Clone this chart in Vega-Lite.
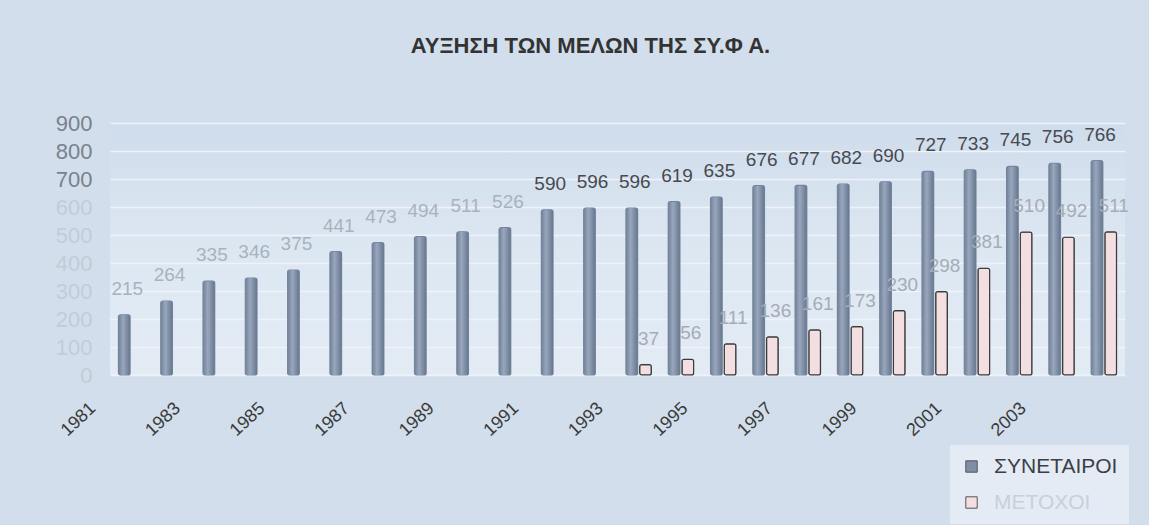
{
  "$schema": "https://vega.github.io/schema/vega-lite/v6.json",
  "width": 1015,
  "height": 252,
  "autosize": "none",
  "padding": {"left": 110, "top": 123, "right": 24, "bottom": 150},
  "background": "#d2deeb",
  "config": {
    "font": "Liberation Sans",
    "view": {"stroke": null, "fill": {"gradient": "linear", "x1": 0, "y1": 0, "x2": 0, "y2": 1, "stops": [{"offset": 0, "color": "#cfdceb"}, {"offset": 0.5, "color": "#dde7f2"}, {"offset": 1, "color": "#e3ecf5"}]}}
  },
  "title": {
    "text": "ΑΥΞΗΣΗ ΤΩΝ ΜΕΛΩΝ ΤΗΣ ΣΥ.Φ Α.",
    "fontSize": 22,
    "fontWeight": "bold",
    "color": "#333333",
    "anchor": "middle",
    "dx": -27,
    "offset": 54
  },
  "data": {
    "values": [
      {"year": 1981, "series": "ΣΥΝΕΤΑΙΡΟΙ", "value": 215},
      {"year": 1982, "series": "ΣΥΝΕΤΑΙΡΟΙ", "value": 264},
      {"year": 1983, "series": "ΣΥΝΕΤΑΙΡΟΙ", "value": 335},
      {"year": 1984, "series": "ΣΥΝΕΤΑΙΡΟΙ", "value": 346},
      {"year": 1985, "series": "ΣΥΝΕΤΑΙΡΟΙ", "value": 375},
      {"year": 1986, "series": "ΣΥΝΕΤΑΙΡΟΙ", "value": 441},
      {"year": 1987, "series": "ΣΥΝΕΤΑΙΡΟΙ", "value": 473},
      {"year": 1988, "series": "ΣΥΝΕΤΑΙΡΟΙ", "value": 494},
      {"year": 1989, "series": "ΣΥΝΕΤΑΙΡΟΙ", "value": 511},
      {"year": 1990, "series": "ΣΥΝΕΤΑΙΡΟΙ", "value": 526},
      {"year": 1991, "series": "ΣΥΝΕΤΑΙΡΟΙ", "value": 590},
      {"year": 1992, "series": "ΣΥΝΕΤΑΙΡΟΙ", "value": 596},
      {"year": 1993, "series": "ΣΥΝΕΤΑΙΡΟΙ", "value": 596},
      {"year": 1994, "series": "ΣΥΝΕΤΑΙΡΟΙ", "value": 619},
      {"year": 1995, "series": "ΣΥΝΕΤΑΙΡΟΙ", "value": 635},
      {"year": 1996, "series": "ΣΥΝΕΤΑΙΡΟΙ", "value": 676},
      {"year": 1997, "series": "ΣΥΝΕΤΑΙΡΟΙ", "value": 677},
      {"year": 1998, "series": "ΣΥΝΕΤΑΙΡΟΙ", "value": 682},
      {"year": 1999, "series": "ΣΥΝΕΤΑΙΡΟΙ", "value": 690},
      {"year": 2000, "series": "ΣΥΝΕΤΑΙΡΟΙ", "value": 727},
      {"year": 2001, "series": "ΣΥΝΕΤΑΙΡΟΙ", "value": 733},
      {"year": 2002, "series": "ΣΥΝΕΤΑΙΡΟΙ", "value": 745},
      {"year": 2003, "series": "ΣΥΝΕΤΑΙΡΟΙ", "value": 756},
      {"year": 2004, "series": "ΣΥΝΕΤΑΙΡΟΙ", "value": 766},
      {"year": 1993, "series": "ΜΕΤΟΧΟΙ", "value": 37},
      {"year": 1994, "series": "ΜΕΤΟΧΟΙ", "value": 56},
      {"year": 1995, "series": "ΜΕΤΟΧΟΙ", "value": 111},
      {"year": 1996, "series": "ΜΕΤΟΧΟΙ", "value": 136},
      {"year": 1997, "series": "ΜΕΤΟΧΟΙ", "value": 161},
      {"year": 1998, "series": "ΜΕΤΟΧΟΙ", "value": 173},
      {"year": 1999, "series": "ΜΕΤΟΧΟΙ", "value": 230},
      {"year": 2000, "series": "ΜΕΤΟΧΟΙ", "value": 298},
      {"year": 2001, "series": "ΜΕΤΟΧΟΙ", "value": 381},
      {"year": 2002, "series": "ΜΕΤΟΧΟΙ", "value": 510},
      {"year": 2003, "series": "ΜΕΤΟΧΟΙ", "value": 492},
      {"year": 2004, "series": "ΜΕΤΟΧΟΙ", "value": 511}
    ]
  },
  "encoding": {
    "x": {
      "field": "year",
      "type": "ordinal",
      "scale": {"paddingInner": 0.4, "paddingOuter": 0.2},
      "axis": {
        "title": null,
        "values": [1981, 1983, 1985, 1987, 1989, 1991, 1993, 1995, 1997, 1999, 2001, 2003],
        "labelAngle": -43,
        "labelAlign": "right",
        "labelBaseline": "top",
        "labelFontSize": 18,
        "labelColor": "#3a3a3a",
        "labelOffset": -44,
        "labelPadding": 24,
        "domain": false,
        "ticks": false
      }
    },
    "xOffset": {
      "field": "series",
      "type": "nominal",
      "scale": {"domain": ["ΣΥΝΕΤΑΙΡΟΙ", "ΜΕΤΟΧΟΙ"], "paddingInner": 0.15}
    },
    "y": {
      "field": "value",
      "type": "quantitative",
      "scale": {"domain": [0, 900], "nice": false},
      "axis": {
        "title": null,
        "values": [0, 100, 200, 300, 400, 500, 600, 700, 800, 900],
        "labelFontSize": 22,
        "labelPadding": 18,
        "labelColor": {"condition": {"test": "datum.value >= 700", "value": "#7a818b"}, "value": "#c3ccd7"},
        "domain": false,
        "ticks": false,
        "gridColor": "#eef3f9",
        "gridWidth": 1.5
      }
    }
  },
  "layer": [
    {
      "mark": {"type": "bar", "cornerRadius": 2, "strokeWidth": 1.2},
      "encoding": {
        "color": {
          "field": "series",
          "type": "nominal",
          "scale": {"domain": ["ΣΥΝΕΤΑΙΡΟΙ", "ΜΕΤΟΧΟΙ"], "range": ["#7e8ea7", "#f3dfe1"]},
          "legend": {
            "title": null,
            "orient": "none",
            "legendX": 840,
            "legendY": 322,
            "fillColor": "#e4ebf4",
            "padding": 11,
            "symbolType": "square",
            "symbolSize": 130,
            "symbolStrokeColor": "#555555",
            "symbolStrokeWidth": 1,
            "labelFontSize": 21,
            "labelColor": {"expr": "datum.label == 'ΣΥΝΕΤΑΙΡΟΙ' ? '#3c3f45' : '#c8d0da'"},
            "rowPadding": 14,
            "labelOffset": 12
          }
        },
        "stroke": {"condition": {"test": "datum.series == 'ΜΕΤΟΧΟΙ'", "value": "#3a3a3a"}, "value": "#75849d"}
      }
    },
    {
      "transform": [{"filter": "datum.series == 'ΣΥΝΕΤΑΙΡΟΙ'"}],
      "mark": {
        "type": "bar",
        "cornerRadius": 2,
        "fill": {"gradient": "linear", "x1": 0, "y1": 0, "x2": 1, "y2": 0, "stops": [{"offset": 0, "color": "#718199"}, {"offset": 0.4, "color": "#98a7bc"}, {"offset": 1, "color": "#67778f"}]}
      }
    },
    {
      "mark": {"type": "text", "baseline": "bottom", "dy": -16, "dx": 3, "fontSize": 19},
      "encoding": {
        "text": {"field": "value", "type": "quantitative"},
        "color": {
          "condition": [
            {"test": "datum.series == 'ΜΕΤΟΧΟΙ'", "value": "#a5acb6"},
            {"test": "datum.year >= 1991", "value": "#474a50"}
          ],
          "value": "#a9b2be"
        }
      }
    }
  ]
}
